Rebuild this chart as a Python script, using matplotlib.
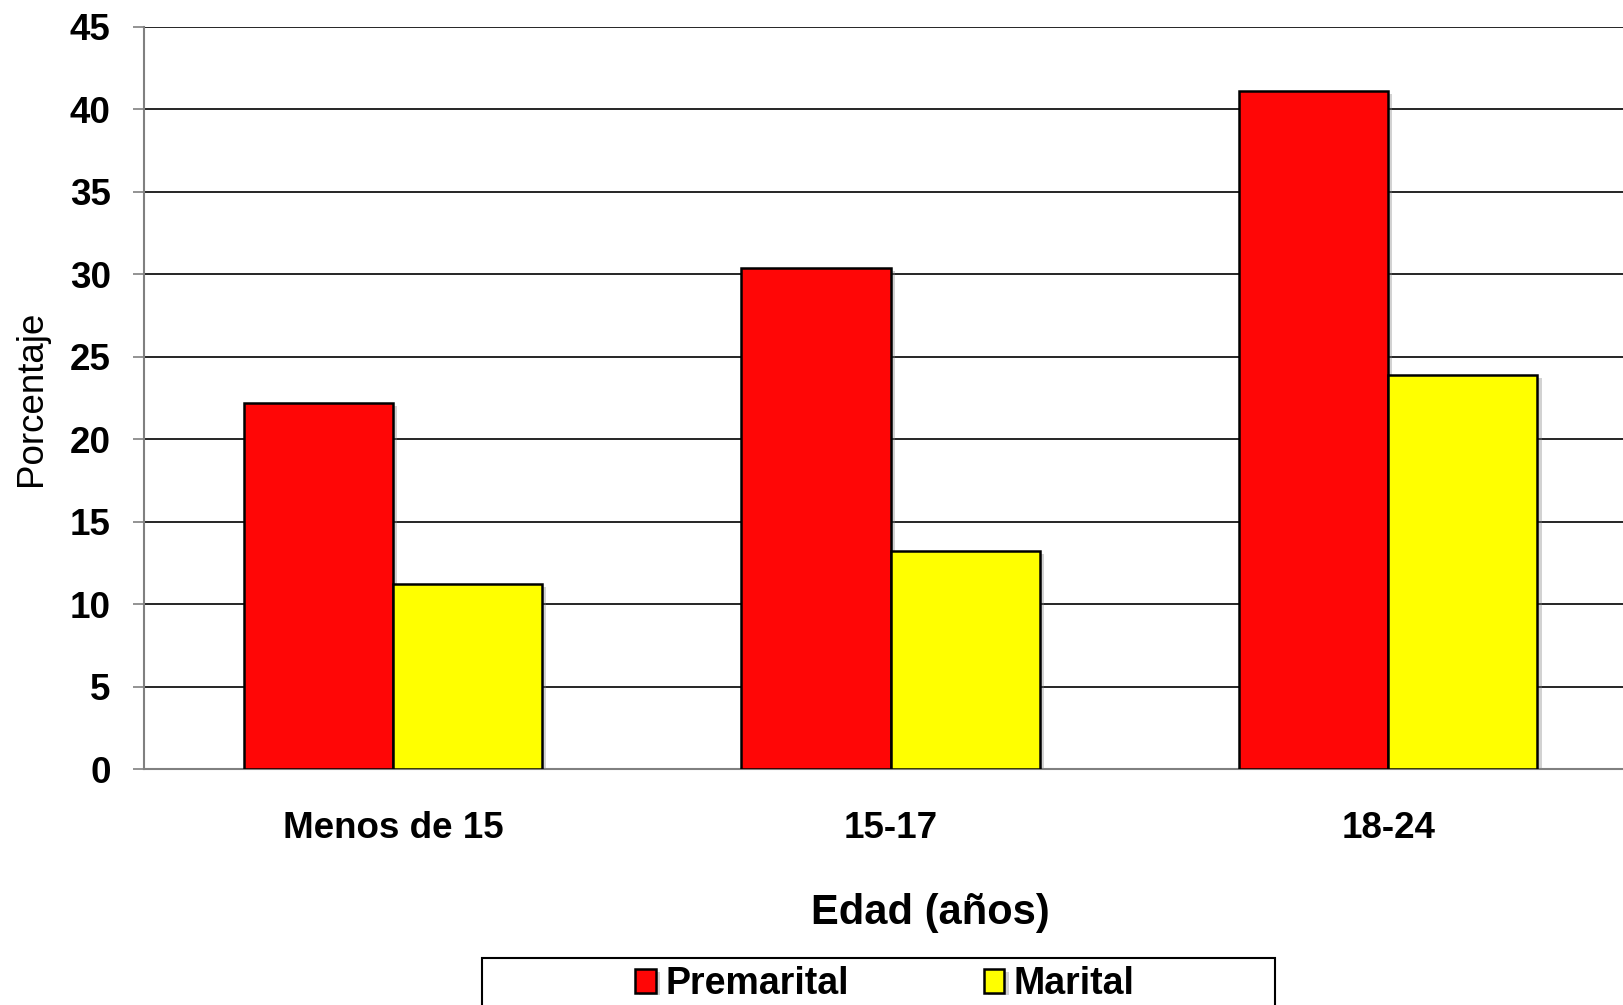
import matplotlib
matplotlib.use('Agg')
import matplotlib.pyplot as plt
import matplotlib.patheffects as pe
from matplotlib.patches import Rectangle
import numpy as np

# Data
categories = ['Menos de 15', '15-17', '18-24']
premarital = [22.2, 30.4, 41.1]
marital = [11.2, 13.2, 23.9]
series_names = ['Premarital', 'Marital']
y_ticks = [0, 5, 10, 15, 20, 25, 30, 35, 40, 45]

plt.rcParams['font.family'] = ['Liberation Sans', 'DejaVu Sans']

W, H = 1623, 1005
fig = plt.figure(figsize=(W / 100, H / 100), dpi=100)

# Plot area runs past the right edge, as in the reference
left, bottom, top = 144, 769, 27
right = 1637
ax = fig.add_axes([left / W, (H - bottom) / H, (right - left) / W, (bottom - top) / H])

x = np.arange(len(categories))
width = 0.3
shadow = [pe.SimplePatchShadow(offset=(3, -2), shadow_rgbFace='gray', alpha=0.35), pe.Normal()]
b1 = ax.bar(x - width / 2, premarital, width, color='#ff0606', edgecolor='black',
            linewidth=1.8, label=series_names[0], zorder=3)
b2 = ax.bar(x + width / 2, marital, width, color='#ffff00', edgecolor='black',
            linewidth=1.8, label=series_names[1], zorder=3)
for bar in list(b1) + list(b2):
    bar.set_path_effects(shadow)

ax.set_xlim(-0.5, 2.5)
ax.set_ylim(0, 45)
ax.set_yticks(y_ticks)
ax.set_yticklabels([str(t) for t in y_ticks], fontsize=26.5, fontweight='bold')
ax.set_xticks(x)
ax.set_xticklabels(categories, fontsize=26.5, fontweight='bold')

ax.yaxis.grid(True, color='black', linewidth=1.2, zorder=0)
ax.set_axisbelow(True)

for s in ['top', 'right']:
    ax.spines[s].set_visible(False)
for s in ['left', 'bottom']:
    ax.spines[s].set_color('#808080')
    ax.spines[s].set_linewidth(1.5)
ax.tick_params(axis='y', length=8, width=1.2, color='#808080', pad=16)
ax.tick_params(axis='x', length=0, pad=30)

fig.text(31 / W, 1 - 398 / H, 'Porcentaje', fontsize=26.5, rotation=90,
         ha='center', va='center')
fig.text(930 / W, 1 - 913 / H, 'Edad (años)', fontsize=30, fontweight='bold',
         ha='center', va='center')

# Legend box clipped by the bottom of the figure
fig.patches.append(Rectangle((482 / W, -0.05), (1275 - 482) / W, 0.05 + (H - 958) / H,
                             transform=fig.transFigure, facecolor='white',
                             edgecolor='black', linewidth=1.5))
leg = fig.legend(handles=[b1, b2], loc='center', bbox_to_anchor=(885 / W, 1 - 984 / H),
                 ncol=2, frameon=False, prop={'weight': 'bold', 'size': 27},
                 handlelength=0.55, handleheight=0.6, handletextpad=0.25, columnspacing=3.6)

fig.savefig('out.png', dpi=100)
